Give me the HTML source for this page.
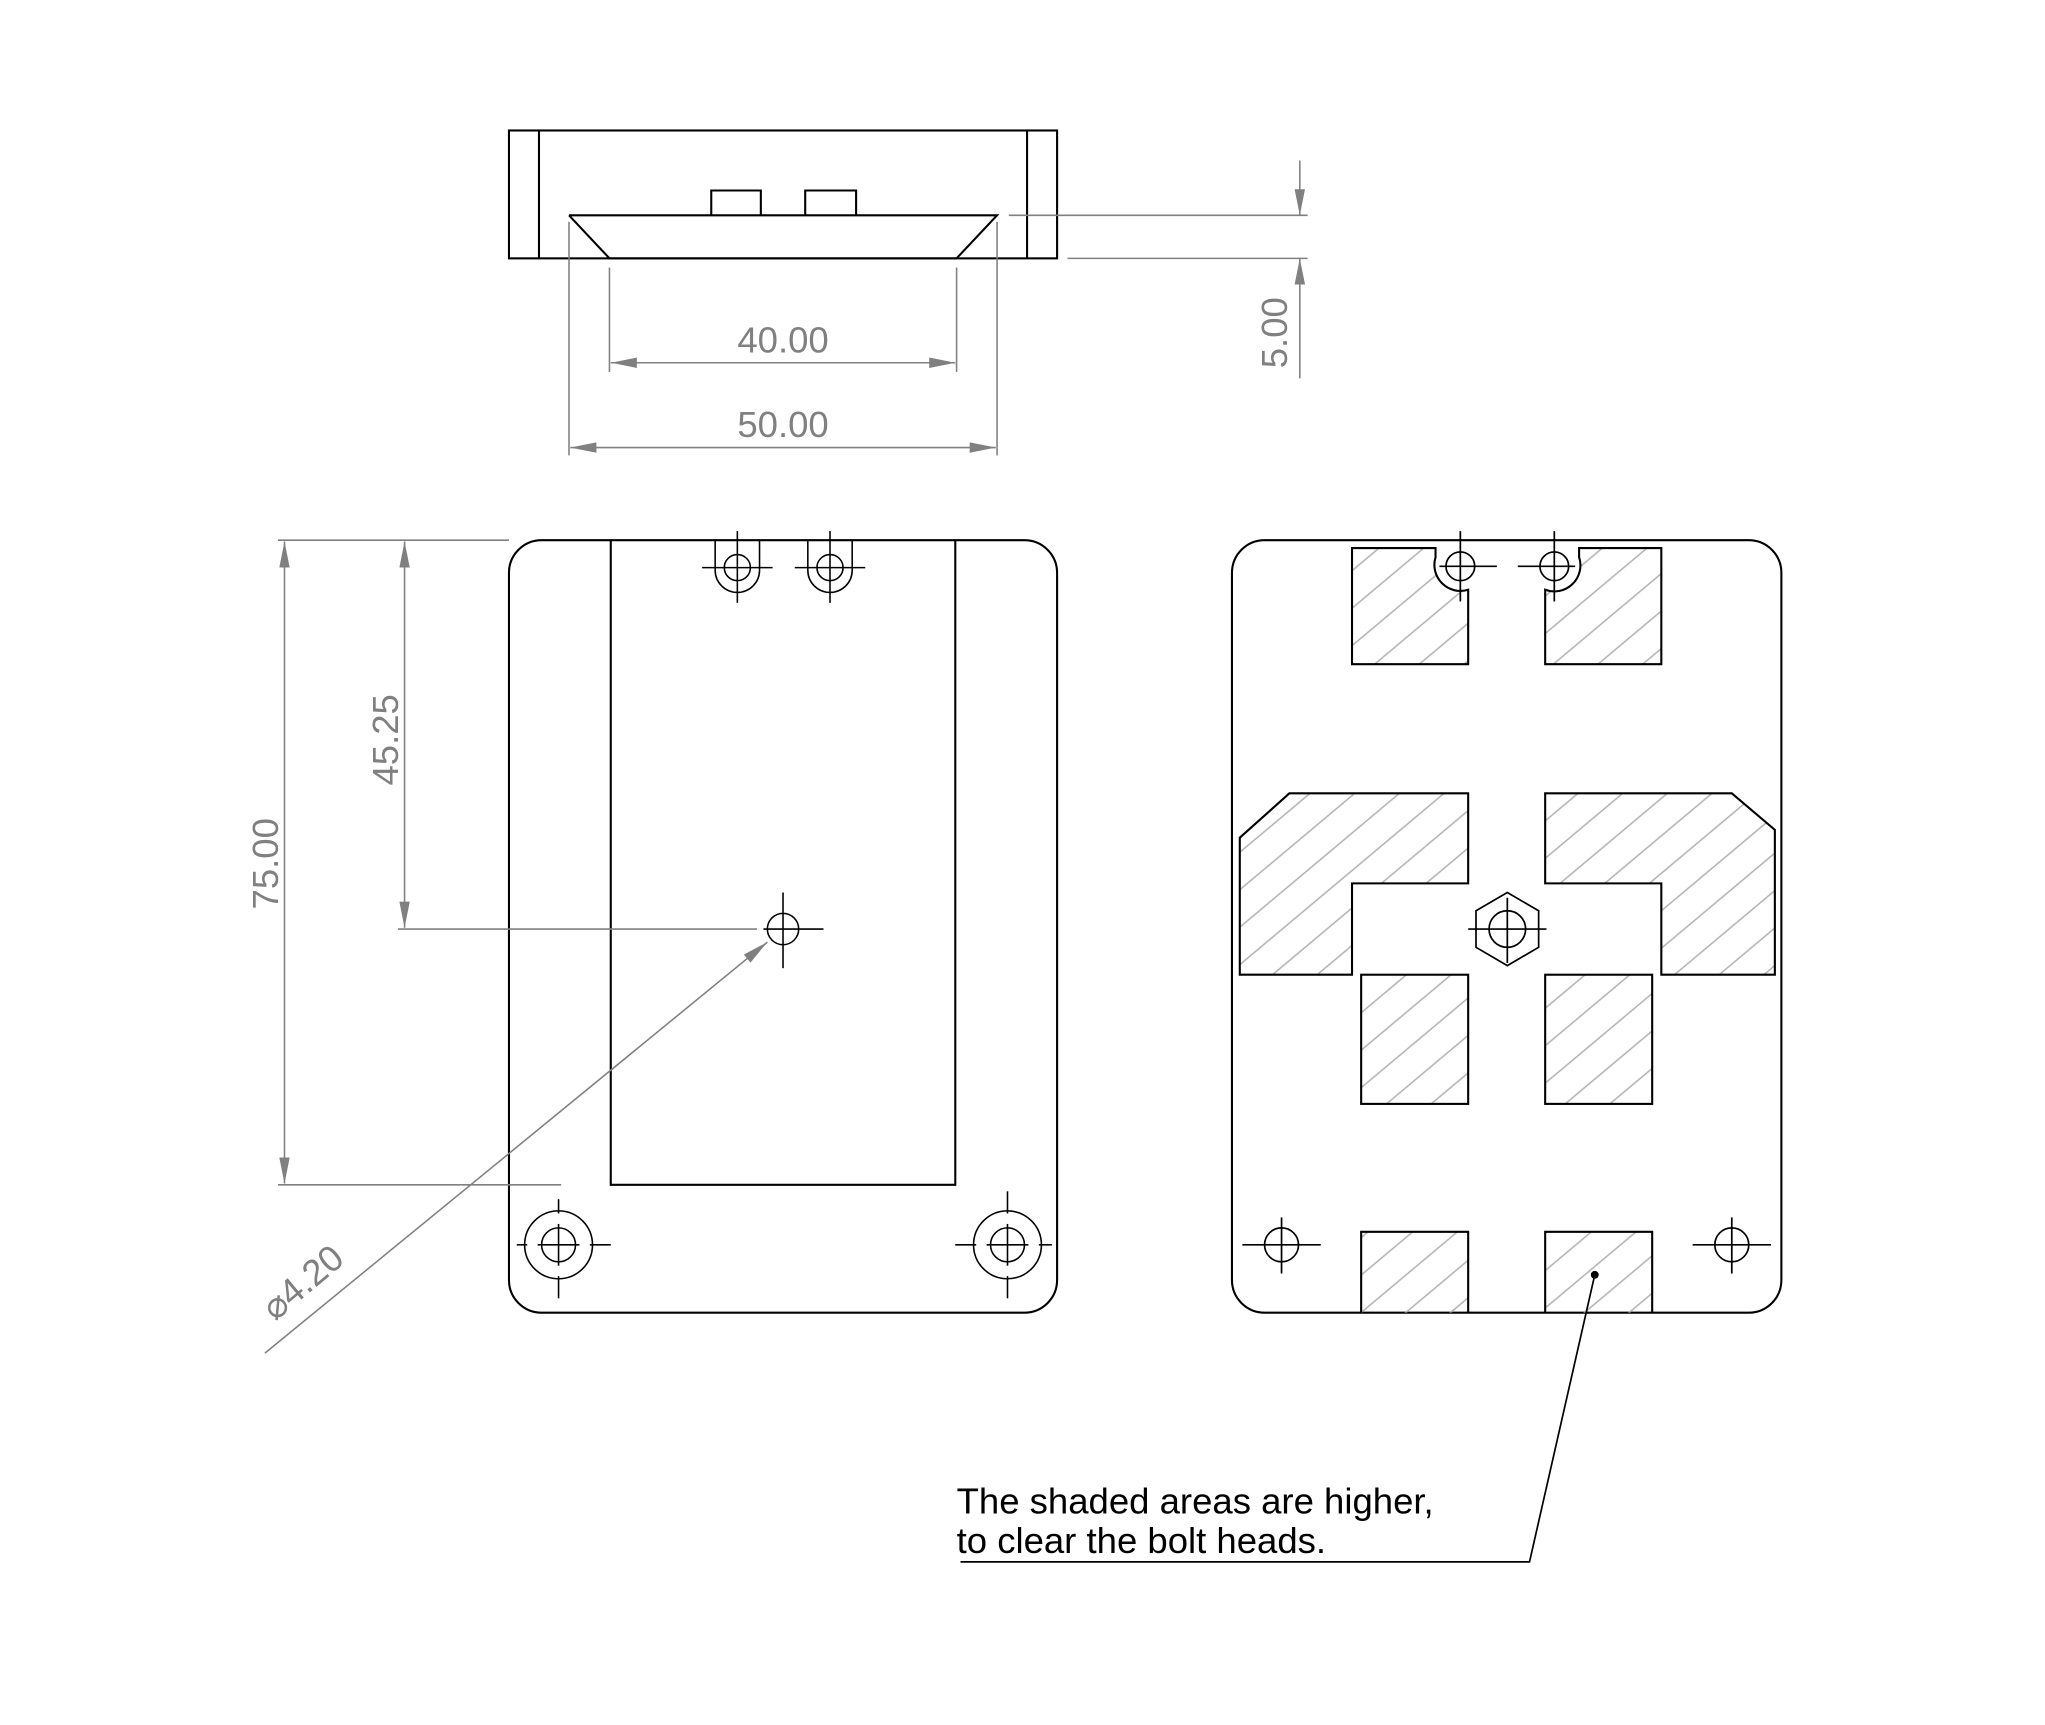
<!DOCTYPE html>
<html><head><meta charset="utf-8"><style>
html,body{margin:0;padding:0;background:#fff}
svg{display:block}
text{font-family:"Liberation Sans",sans-serif}
</style></head><body>
<svg width="2045" height="1725" viewBox="0 0 1567 1322" preserveAspectRatio="none" xmlns="http://www.w3.org/2000/svg">
<defs>
<pattern id="h" width="22" height="22" patternUnits="userSpaceOnUse" patternTransform="rotate(-40)">
<line x1="0" y1="11" x2="22" y2="11" stroke="#b0b0b0" stroke-width="1.2"/>
</pattern>
<marker id="a" viewBox="0 0 20 8" refX="20" refY="4" markerWidth="20" markerHeight="8" markerUnits="userSpaceOnUse" orient="auto-start-reverse">
<path d="M0,0 L20,4 L0,8 z" fill="#808080"/>
</marker>
</defs>
<rect width="1567" height="1322" fill="#fff"/>

<!-- TOP VIEW -->
<g fill="none" stroke="#000" stroke-width="1.6">
<rect x="390" y="100" width="420" height="98"/>
<line x1="413" y1="100" x2="413" y2="198"/>
<line x1="787" y1="100" x2="787" y2="198"/>
<polyline points="436,165 764,165 733,198 467,198 436,165"/>
<polyline points="545,165 545,146 583,146 583,165"/>
<polyline points="617,165 617,146 656,146 656,165"/>
</g>
<g stroke="#808080" stroke-width="1.2" fill="none">
<line x1="436" y1="170" x2="436" y2="349"/>
<line x1="764" y1="170" x2="764" y2="349"/>
<line x1="467" y1="205" x2="467" y2="285"/>
<line x1="733" y1="205" x2="733" y2="285"/>
<line x1="468" y1="278" x2="732" y2="278" marker-start="url(#a)" marker-end="url(#a)"/>
<line x1="437" y1="343" x2="763" y2="343" marker-start="url(#a)" marker-end="url(#a)"/>
<line x1="773" y1="165" x2="1002" y2="165"/>
<line x1="818" y1="198" x2="1002" y2="198"/>
<line x1="996" y1="123" x2="996" y2="165" marker-end="url(#a)"/>
<line x1="996" y1="290" x2="996" y2="198" marker-end="url(#a)"/>
</g>
<g fill="#808080" font-size="28">
<text x="600" y="270" text-anchor="middle">40.00</text>
<text x="600" y="335" text-anchor="middle">50.00</text>
<text transform="translate(986,255) rotate(-90)" text-anchor="middle">5.00</text>
<text transform="translate(213,662) rotate(-90)" text-anchor="middle">75.00</text>
<text transform="translate(305,567) rotate(-90)" text-anchor="middle">45.25</text>
<text transform="translate(238,990) rotate(-40)" text-anchor="middle">⌀4.20</text>
</g>

<!-- LEFT VIEW -->
<g fill="none" stroke="#000" stroke-width="1.6">
<rect x="390" y="414" width="420" height="592" rx="25"/>
<polyline points="468,414 468,908 732,908 732,414"/>
</g>
<g fill="none" stroke="#000" stroke-width="1.2">
<path d="M548,414 V437 A17,17 0 0 0 582,437 V414"/>
<path d="M619,414 V437 A17,17 0 0 0 653,437 V414"/>
<circle cx="565" cy="435" r="10"/><circle cx="636" cy="435" r="10"/>
<line x1="538" y1="435" x2="592" y2="435"/><line x1="565" y1="407" x2="565" y2="462"/>
<line x1="609" y1="435" x2="663" y2="435"/><line x1="636" y1="407" x2="636" y2="462"/>
<circle cx="600" cy="712" r="12"/>
<line x1="585" y1="712" x2="631" y2="712"/><line x1="600" y1="684" x2="600" y2="742"/>
<circle cx="428" cy="954" r="26"/><circle cx="428" cy="954" r="13"/>
<line x1="412" y1="954" x2="444" y2="954"/><line x1="428" y1="938" x2="428" y2="970"/>
<line x1="396" y1="954" x2="404" y2="954"/><line x1="452" y1="954" x2="468" y2="954"/>
<line x1="428" y1="919" x2="428" y2="930"/><line x1="428" y1="978" x2="428" y2="995"/>
<circle cx="772" cy="954" r="26"/><circle cx="772" cy="954" r="13"/>
<line x1="756" y1="954" x2="788" y2="954"/><line x1="772" y1="938" x2="772" y2="970"/>
<line x1="732" y1="954" x2="748" y2="954"/><line x1="796" y1="954" x2="806" y2="954"/>
<line x1="772" y1="913" x2="772" y2="930"/><line x1="772" y1="978" x2="772" y2="995"/>
</g>
<g stroke="#808080" stroke-width="1.2" fill="none">
<line x1="213" y1="414" x2="390" y2="414"/>
<line x1="213" y1="908" x2="430" y2="908"/>
<line x1="218" y1="415" x2="218" y2="907" marker-start="url(#a)" marker-end="url(#a)"/>
<line x1="310" y1="415" x2="310" y2="711" marker-start="url(#a)" marker-end="url(#a)"/>
<line x1="305" y1="712" x2="580" y2="712"/>
<line x1="203" y1="1037" x2="588" y2="722" marker-end="url(#a)"/>
</g>

<!-- RIGHT VIEW -->
<g stroke="#000" stroke-width="1.6">
<rect x="944" y="414" width="421" height="592" rx="25" fill="none"/>
<g fill="url(#h)">
<path d="M1036,420 H1100 V427 A20,20 0 0 0 1125,452 V509 H1036 Z"/>
<path d="M1273,420 H1210 V427 A20,20 0 0 1 1184,452 V509 H1273 Z"/>
<polygon points="950,642 988,608 1125,608 1125,677 1036,677 1036,747 950,747"/>
<polygon points="1184,608 1327,608 1360,636 1360,747 1273,747 1273,677 1184,677"/>
<rect x="1043" y="747" width="82" height="99"/>
<rect x="1184" y="747" width="82" height="99"/>
<path d="M1043,1006 V944 H1125 V1006"/>
<path d="M1184,1006 V944 H1266 V1006"/>
</g>
</g>
<g fill="none" stroke="#000" stroke-width="1.3">
<circle cx="1119" cy="434" r="11"/><line x1="1103" y1="434" x2="1147" y2="434"/><line x1="1119" y1="407" x2="1119" y2="461"/>
<circle cx="1191" cy="434" r="11"/><line x1="1163" y1="434" x2="1207" y2="434"/><line x1="1191" y1="407" x2="1191" y2="461"/>
<polygon points="1155,684 1179,698 1179,726 1155,740 1131,726 1131,698"/>
<circle cx="1155" cy="712" r="14"/><line x1="1125" y1="712" x2="1185" y2="712"/><line x1="1155" y1="688" x2="1155" y2="738"/>
<circle cx="982" cy="954" r="13"/><line x1="952" y1="954" x2="1012" y2="954"/><line x1="982" y1="933" x2="982" y2="976"/>
<circle cx="1327" cy="954" r="13"/><line x1="1297" y1="954" x2="1357" y2="954"/><line x1="1327" y1="933" x2="1327" y2="976"/>
<polyline points="1222,977 1172,1197 736,1197"/>
</g>
<circle cx="1222" cy="977" r="3" fill="#000"/>
<g font-size="28" fill="#000">
<text x="733" y="1160">The shaded areas are higher,</text>
<text x="733" y="1190">to clear the bolt heads.</text>
</g>
</svg>
</body></html>
